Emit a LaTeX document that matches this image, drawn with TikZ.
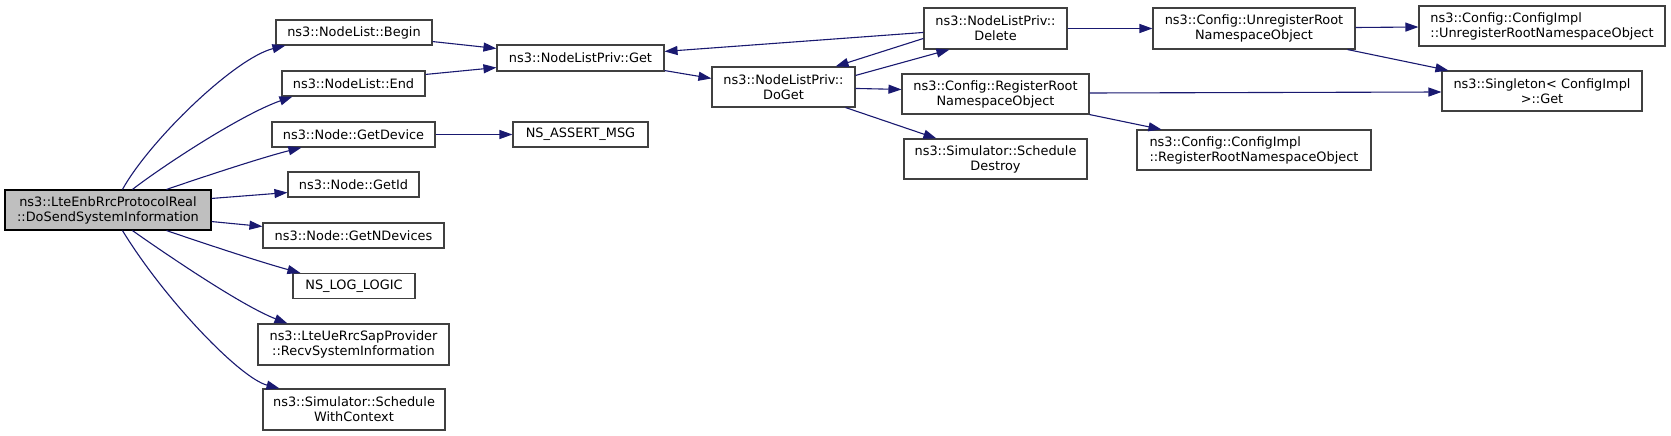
\documentclass[tikz,border=0pt]{standalone}
\usepackage{fontspec}
\setmainfont{DejaVu Sans}
\usetikzlibrary{arrows.meta,calc}
\definecolor{edgecol}{HTML}{191970}
\definecolor{boxcol}{HTML}{404040}
\definecolor{mainfill}{HTML}{BFBFBF}
\tikzset{
  box/.style={draw=boxcol,line width=1.1pt,fill=white,inner sep=0pt,align=center,
    font=\fontsize{12.9}{15}\selectfont},
  lbox/.style={box,align=left},
  mainbox/.style={box,fill=mainfill,draw=black},
  edge/.style={draw=edgecol,line width=1.1pt,-{Triangle[length=13pt,width=9pt]}},
}
\begin{document}
\begin{tikzpicture}[x=1pt,y=-1pt]
\useasboundingbox (0,0) rectangle (1671,436);
% nodes
\node[mainbox,minimum width=206pt,minimum height=40pt] (main) at (108,210) {ns3::LteEnbRrcProtocolReal\\::DoSendSystemInformation};
\node[box,minimum width=156pt,minimum height=25pt] (begin) at (354,32.5) {ns3::NodeList::Begin};
\node[box,minimum width=143pt,minimum height=25pt] (end) at (353.5,83.5) {ns3::NodeList::End};
\node[box,minimum width=163pt,minimum height=25pt] (getdev) at (353.5,134.5) {ns3::Node::GetDevice};
\node[box,minimum width=131pt,minimum height=25pt] (getid) at (353.5,184.5) {ns3::Node::GetId};
\node[box,minimum width=181pt,minimum height=25pt] (getnd) at (353.5,235.5) {ns3::Node::GetNDevices};
\node[box,minimum width=122pt,minimum height=25pt] (nslog) at (354,286) {NS\_LOG\_LOGIC};
\node[box,minimum width=191pt,minimum height=41pt] (recv) at (353.5,344.5) {ns3::LteUeRrcSapProvider\\::RecvSystemInformation};
\node[box,minimum width=182pt,minimum height=41pt] (swc) at (354,409.5) {ns3::Simulator::Schedule\\WithContext};
\node[box,minimum width=167pt,minimum height=26pt] (get) at (580.5,58) {ns3::NodeListPriv::Get};
\node[box,minimum width=135pt,minimum height=25pt] (assert) at (580.5,134.5) {NS\_ASSERT\_MSG};
\node[box,minimum width=143pt,minimum height=40pt] (doget) at (783.5,87) {ns3::NodeListPriv::\\DoGet};
\node[box,minimum width=143pt,minimum height=41pt] (delete) at (995.5,28.5) {ns3::NodeListPriv::\\Delete};
\node[box,minimum width=187pt,minimum height=40pt] (rr) at (995.5,94) {ns3::Config::RegisterRoot\\NamespaceObject};
\node[box,minimum width=183pt,minimum height=40pt] (sd) at (995.5,159) {ns3::Simulator::Schedule\\Destroy};
\node[box,minimum width=202pt,minimum height=41pt] (ur) at (1254,28.5) {ns3::Config::UnregisterRoot\\NamespaceObject};
\node[lbox,minimum width=246pt,minimum height=40pt] (ciu) at (1542,26) {ns3::Config::ConfigImpl\\::UnregisterRootNamespaceObject};
\node[box,minimum width=200pt,minimum height=40pt] (single) at (1542,91) {ns3::Singleton< ConfigImpl\\>::Get};
\node[lbox,minimum width=234pt,minimum height=40pt] (cir) at (1254,150) {ns3::Config::ConfigImpl\\::RegisterRootNamespaceObject};
% edges from main
\draw[edge] ($(main.north west)+(118,0)$) .. controls (150,140) and (235,58) .. ($(begin.south west)+(10,0)$);
\draw[edge] ($(main.north west)+(128,0)$) .. controls (160,168) and (240,115) .. ($(end.south west)+(11,0)$);
\draw[edge] ($(main.north west)+(162,0)$) .. controls (200,178) and (260,158) .. ($(getdev.south west)+(30,0)$);
\draw[edge] ($(main.north east)+(0,9)$) -- ($(getid.south west)+(0,-5)$);
\draw[edge] ($(main.south east)+(0,-9)$) -- ($(getnd.north west)+(0,4)$);
\draw[edge] ($(main.south west)+(162,0)$) .. controls (200,242) and (260,262) .. ($(nslog.north west)+(8,0)$);
\draw[edge] ($(main.south west)+(128,0)$) .. controls (160,250) and (240,305) .. ($(recv.north west)+(30,0)$);
\draw[edge] ($(main.south west)+(118,0)$) .. controls (165,300) and (240,378) .. ($(swc.north west)+(17,0)$);
% other edges
\draw[edge] ($(begin.south east)+(0,-4)$) -- ($(get.north west)+(0,4)$);
\draw[edge] ($(end.north east)+(0,4)$) -- ($(get.south west)+(0,-4)$);
\draw[edge] (getdev.east) -- (assert.west);
\draw[edge] ($(get.south east)+(0,-1)$) -- ($(doget.north west)+(0,12)$);
\draw[edge] ($(delete.north west)+(0,25)$) -- ($(get.north east)+(0,7)$);
\draw[edge] ($(delete.north west)+(0,31)$) -- ($(doget.north east)+(-20,0)$);
\draw[edge] ($(doget.north east)+(0,9)$) -- ($(delete.south west)+(26,0)$);
\draw[edge] ($(doget.north east)+(0,22)$) -- ($(rr.north west)+(0,16)$);
\draw[edge] ($(doget.south east)+(-10,0)$) -- ($(sd.north west)+(33,0)$);
\draw[edge] (delete.east) -- (ur.west);
\draw[edge] ($(ur.east)+(0,-1)$) -- ($(ciu.west)+(0,1)$);
\draw[edge] ($(ur.south east)+(-8,0)$) -- ($(single.north west)+(7,0)$);
\draw[edge] ($(rr.east)+(0,-1)$) -- ($(single.west)+(0,1)$);
\draw[edge] (rr.south east) -- ($(cir.north west)+(25,0)$);
\end{tikzpicture}
\end{document}
